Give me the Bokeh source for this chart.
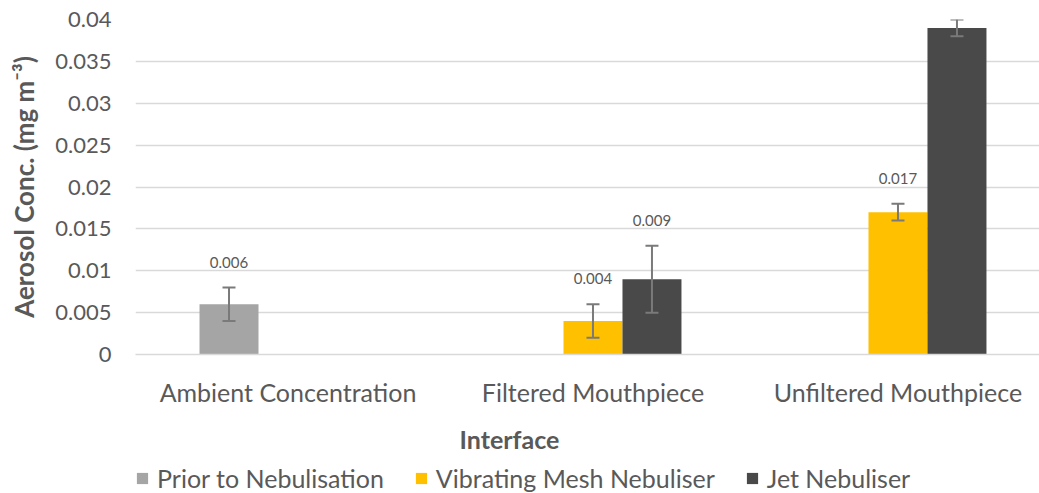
import math
from bokeh.plotting import figure
from bokeh.layouts import column
from bokeh.models import (ColumnDataSource, FixedTicker, Whisker, TeeHead, Legend,
                          LegendItem, Label, Range1d)
from bokeh.core.properties import value
from bokeh.embed import file_html
from bokeh.resources import INLINE

nan = float("nan")

# ---- data ----
categories = ["Ambient Concentration", "Filtered Mouthpiece", "Unfiltered Mouthpiece"]
series_names = ["Prior to Nebulisation", "Vibrating Mesh Nebuliser", "Jet Nebuliser"]
prior_vals = [0.006, nan, nan]
prior_err = [0.002, nan, nan]
mesh_vals = [nan, 0.004, 0.017]
mesh_err = [nan, 0.002, 0.001]
jet_vals = [nan, 0.009, 0.039]
jet_err = [nan, 0.004, 0.001]
y_ticks = [0, 0.005, 0.01, 0.015, 0.02, 0.025, 0.03, 0.035, 0.04]
y_tick_labels = ["0", "0.005", "0.01", "0.015", "0.02", "0.025", "0.03", "0.035", "0.04"]
x_title = "Interface"
y_title = "Aerosol Conc. (mg m\u207b\u00b3)"

# ---- styles ----
FONT = "Lato"
TXT = "#595959"
colors = ["#A5A5A5", "#FFC000", "#494949"]
ERR = "#7A7A7A"
bar_w = 0.1934
offsets = [-bar_w, 0.0, bar_w]

p = figure(width=1039, height=410, x_range=Range1d(-0.5, 2.464), y_range=Range1d(0, 0.04),
           output_backend="svg", toolbar_location=None,
           min_border_left=135, min_border_right=0, min_border_top=19, min_border_bottom=56)
p.outline_line_color = None
p.background_fill_color = "white"
p.xgrid.visible = False
p.ygrid.grid_line_color = "#D9D9D9"
p.ygrid.grid_line_width = 1.5

p.yaxis.ticker = FixedTicker(ticks=y_ticks)
p.yaxis.major_label_overrides = {t: l for t, l in zip(y_ticks, y_tick_labels)}
p.yaxis.axis_line_color = None
p.yaxis.major_tick_line_color = None
p.yaxis.minor_tick_line_color = None
p.yaxis.major_tick_out = 0
p.yaxis.major_tick_in = 0
p.yaxis.minor_tick_out = 0
p.yaxis.major_label_text_font = FONT
p.yaxis.major_label_text_font_size = "22px"
p.yaxis.major_label_text_color = TXT
p.yaxis.major_label_standoff = 24
p.yaxis.axis_label = y_title
p.yaxis.axis_label_text_font = FONT
p.yaxis.axis_label_text_font_style = "bold"
p.yaxis.axis_label_text_font_size = "26px"
p.yaxis.axis_label_text_color = TXT
p.yaxis.axis_label_standoff = 12

p.xaxis.ticker = FixedTicker(ticks=list(range(len(categories))))
p.xaxis.major_label_overrides = {i: c for i, c in enumerate(categories)}
p.xaxis.axis_line_color = "#D9D9D9"
p.xaxis.axis_line_width = 1.5
p.xaxis.major_tick_line_color = None
p.xaxis.minor_tick_line_color = None
p.xaxis.major_tick_out = 0
p.xaxis.major_tick_in = 0
p.xaxis.minor_tick_out = 0
p.xaxis.major_label_text_font = FONT
p.xaxis.major_label_text_font_size = "25px"
p.xaxis.major_label_text_color = TXT
p.xaxis.major_label_standoff = 22

all_vals = [prior_vals, mesh_vals, jet_vals]
all_err = [prior_err, mesh_err, jet_err]
for k, (vals, errs) in enumerate(zip(all_vals, all_err)):
    xs, tops, ups, lows, labs = [], [], [], [], []
    for i, (v, e) in enumerate(zip(vals, errs)):
        if math.isnan(v):
            continue
        xs.append(i + offsets[k])
        tops.append(v)
        ups.append(v + e)
        lows.append(v - e)
        labs.append(f"{v:.3f}")
    src = ColumnDataSource(dict(x=xs, top=tops, upper=ups, lower=lows, lab=labs))
    p.vbar(x="x", top="top", width=bar_w, source=src, fill_color=colors[k], line_color=None)
    w = Whisker(base="x", upper="upper", lower="lower", source=src, level="overlay",
                line_color=ERR, line_width=2,
                upper_head=TeeHead(size=13, line_color=ERR, line_width=2),
                lower_head=TeeHead(size=13, line_color=ERR, line_width=2))
    p.add_layout(w)
    p.text(x="x", y="upper", text="lab", source=src, text_align="center", text_baseline="bottom",
           y_offset=-20, text_font=value(FONT), text_font_size="15px", text_color=TXT)

# ---- bottom strip: x-axis title and legend (pixel-unit ranges; frame aligned with p) ----
p2 = figure(width=1039, height=83, x_range=Range1d(135, 1039), y_range=Range1d(0, 83),
            output_backend="svg", toolbar_location=None,
            x_axis_location=None, y_axis_location=None,
            min_border_left=0, min_border_right=0, min_border_top=0, min_border_bottom=0)
p2.outline_line_color = None
p2.grid.visible = False
p2.add_layout(Label(x=509, y=55, text=x_title, text_align="center", text_baseline="middle",
                    text_font=FONT, text_font_style="bold", text_font_size="25px",
                    text_color=TXT))
items = []
for k, name in enumerate(series_names):
    # zero-height proxy bars, only used to give the legend its colour swatches
    r = p2.vbar(x=[0], top=[0], bottom=[0], width=0, fill_color=colors[k], line_color=None)
    items.append(LegendItem(label=name, renderers=[r]))
leg = Legend(items=items, location=(0, 0), orientation="horizontal", spacing=30,
             border_line_color=None, background_fill_alpha=0, padding=0, margin=0,
             glyph_width=14, glyph_height=14, label_standoff=8,
             label_text_font=FONT, label_text_font_size="25px", label_text_color=TXT)
p2.add_layout(leg)

layout = column(p, p2, spacing=0)
open("out.html", "w").write(file_html(layout, INLINE))
